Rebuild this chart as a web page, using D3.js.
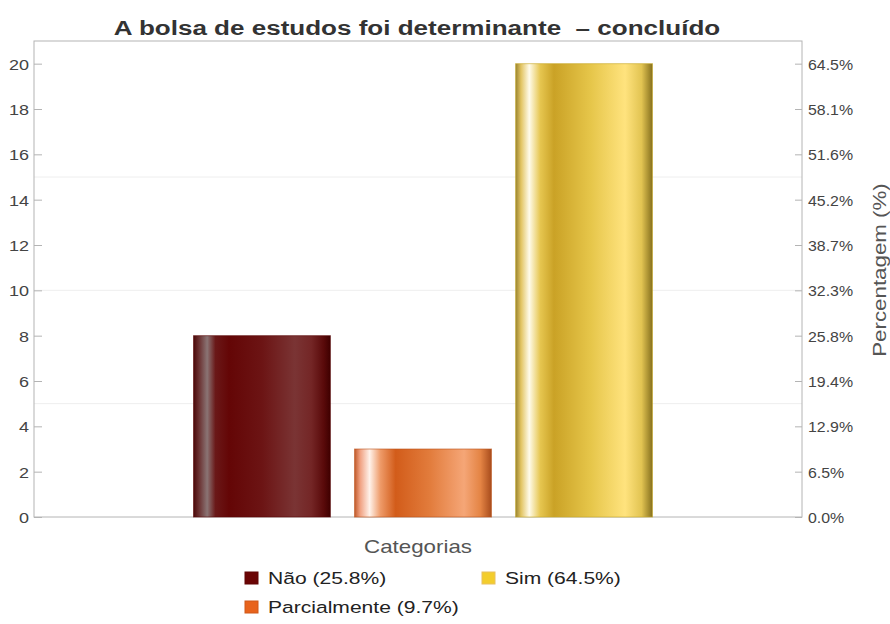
<!DOCTYPE html>
<html>
<head>
<meta charset="utf-8">
<script src="https://cdn.jsdelivr.net/npm/d3@7"></script>
<style>
html,body{margin:0;padding:0;background:#fff;}
svg{display:block;font-family:"Liberation Sans",Arial,sans-serif;}
</style>
</head>
<body>
<svg id="chart" width="890" height="624"></svg>
<script>
const title = "A bolsa de estudos foi determinante  – concluído";
const categories = ["Não", "Parcialmente", "Sim"];
const values = [8, 3, 20];
const legendLabels = ["Não (25.8%)", "Parcialmente (9.7%)", "Sim (64.5%)"];
const leftTicks = [0, 2, 4, 6, 8, 10, 12, 14, 16, 18, 20];
const rightTickLabels = ["0.0%", "6.5%", "12.9%", "19.4%", "25.8%", "32.3%", "38.7%", "45.2%", "51.6%", "58.1%", "64.5%"];
const gridValues = [5, 10, 15];
const xTitle = "Categorias";
const yRightTitle = "Percentagem (%)";

const swatch = ["#6b0404", "#e8631c", "#f3cd2c"];
const gradStops = [
  [[0,"#4a0808"],[0.04,"#6a3030"],[0.1,"#8a7474"],[0.16,"#6a1818"],[0.26,"#640606"],[0.5,"#6c1414"],[0.74,"#7a3434"],[0.86,"#742626"],[0.95,"#5a0a0a"],[1,"#3e0000"]],
  [[0,"#c05a2a"],[0.04,"#f0a080"],[0.11,"#fff2ea"],[0.19,"#ee9a68"],[0.3,"#d25c1a"],[0.55,"#e27c3c"],[0.8,"#f5a677"],[0.92,"#e48444"],[1,"#a84c1c"]],
  [[0,"#9a8430"],[0.04,"#e2c462"],[0.1,"#fffbea"],[0.18,"#e6c650"],[0.28,"#caa226"],[0.55,"#e6c64a"],[0.8,"#ffe37e"],[0.92,"#e2c452"],[1,"#86701e"]]
];

const svg = d3.select("#chart");
const plot = {left: 34, right: 802, top: 41, bottom: 517};

const y = d3.scaleLinear().domain([0, 21]).range([plot.bottom, plot.top]);
const x = d3.scaleBand().domain(categories).range([113, 733]).paddingInner(0.15).paddingOuter(0.5);

const defs = svg.append("defs");
gradStops.forEach((stops, i) => {
  const g = defs.append("linearGradient").attr("id", "g" + i)
    .attr("x1", "0").attr("x2", "1").attr("y1", "0").attr("y2", "0");
  stops.forEach(s => g.append("stop").attr("offset", s[0]).attr("stop-color", s[1]));
});

// horizontally stretched text helper (reference glyphs are wider than Arial)
function stretchedText(parent, tx, ty, sx, rot) {
  return parent.append("text")
    .attr("transform", `translate(${tx},${ty})` + (rot ? ` rotate(${rot})` : "") + ` scale(${sx},1)`);
}

// gridlines
svg.append("g").selectAll("line").data(gridValues).join("line")
  .attr("x1", plot.left).attr("x2", plot.right)
  .attr("y1", d => y(d)).attr("y2", d => y(d))
  .attr("stroke", "#eeeeee").attr("stroke-width", 1);

// frame
svg.append("rect")
  .attr("x", plot.left).attr("y", plot.top)
  .attr("width", plot.right - plot.left).attr("height", plot.bottom - plot.top)
  .attr("fill", "none").attr("stroke", "#b4b4b4").attr("stroke-width", 1);

// bars
svg.append("g").selectAll("rect").data(values).join("rect")
  .attr("x", (d, i) => x(categories[i]))
  .attr("width", x.bandwidth())
  .attr("y", d => y(d))
  .attr("height", d => y(0) - y(d))
  .attr("fill", (d, i) => `url(#g${i})`)
  .attr("stroke", (d, i) => d3.color(swatch[i]).darker(0.6))
  .attr("stroke-opacity", 0.6)
  .attr("stroke-width", 1);

// left axis
const leftAxis = d3.axisLeft(y).tickValues(leftTicks).tickSize(-8).tickPadding(4).tickFormat(d3.format("d"));
const la = svg.append("g").attr("transform", `translate(${plot.left},0)`).call(leftAxis);
la.select(".domain").remove();
la.selectAll(".tick line").attr("stroke", "#b4b4b4");
la.selectAll(".tick text").attr("x", null).attr("dy", null)
  .attr("transform", "translate(-5,5.5) scale(1.2,1)")
  .attr("fill", "#444").style("font-size", "15px");

// right axis
const rightAxis = d3.axisRight(y).tickValues(leftTicks).tickSize(-7)
  .tickFormat((d, i) => rightTickLabels[i]);
const ra = svg.append("g").attr("transform", `translate(${plot.right},0)`).call(rightAxis);
ra.select(".domain").remove();
ra.selectAll(".tick line").attr("stroke", "#b4b4b4");
ra.selectAll(".tick text").attr("x", null).attr("dy", null)
  .attr("transform", "translate(6,5.5) scale(1.06,1)")
  .attr("fill", "#444").style("font-size", "15px");

// title
stretchedText(svg, 417, 35, 1.24)
  .attr("text-anchor", "middle")
  .style("white-space", "pre")
  .style("font-size", "21px").style("font-weight", "bold")
  .attr("fill", "#333")
  .text(title);

// x title
stretchedText(svg, 418, 553, 1.24)
  .attr("text-anchor", "middle")
  .style("font-size", "18px").attr("fill", "#555")
  .text(xTitle);

// right y title
stretchedText(svg, 886, 270, 1.24, -90)
  .attr("text-anchor", "middle")
  .style("font-size", "18px").attr("fill", "#555")
  .text(yRightTitle);

// legend
const legendPos = [[245, 572], [245, 601], [482, 572]];
const lg = svg.append("g").selectAll("g").data(legendLabels).join("g")
  .attr("transform", (d, i) => `translate(${legendPos[i][0]},${legendPos[i][1]})`);
lg.append("rect").attr("width", 13).attr("height", 12)
  .attr("fill", (d, i) => swatch[i])
  .attr("stroke", (d, i) => i === 2 ? "#e8c060" : d3.color(swatch[i]).darker(0.3))
  .attr("stroke-width", 1);
lg.append("text").attr("transform", "translate(23,11.5) scale(1.24,1)")
  .style("font-size", "17px").attr("fill", "#222")
  .text(d => d);
</script>
</body>
</html>
